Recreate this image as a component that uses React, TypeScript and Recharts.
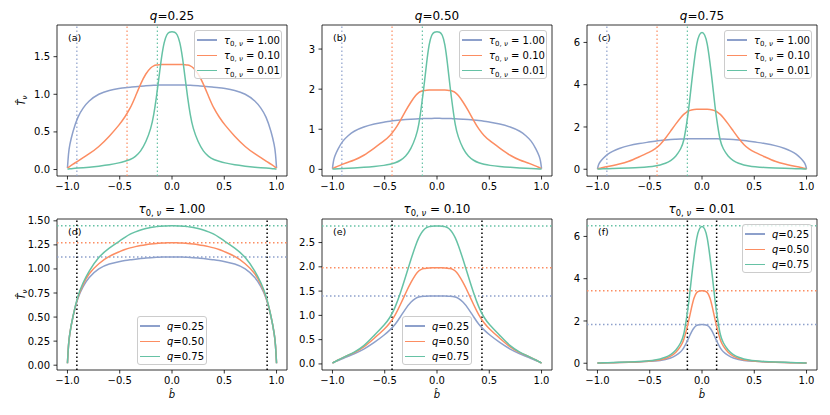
import React from 'react';
import { LineChart, Line, XAxis, YAxis, ReferenceLine, ReferenceArea, Legend } from 'recharts';

// impact parameter grid (b-hat)
const B = [
  -1, -0.99, -0.98, -0.95, -0.9, -0.85, -0.8, -0.7, -0.6, -0.5, -0.45, -0.4, -0.35, -0.3, -0.25, -0.2,
  -0.175, -0.15, -0.125, -0.1, -0.075, -0.05, -0.025, 0,
  0.025, 0.05, 0.075, 0.1, 0.125, 0.15, 0.175, 0.2, 0.25, 0.3, 0.35, 0.4, 0.45, 0.5, 0.6, 0.7, 0.8,
  0.85, 0.9, 0.95, 0.98, 0.99, 1,
];

// tau = 1.00
const T1_Q25 = [
  0.02, 0.22, 0.32, 0.5, 0.71, 0.82, 0.91, 1.01, 1.055, 1.078, 1.088, 1.095, 1.102, 1.108, 1.113, 1.118,
  1.12, 1.121, 1.122, 1.123, 1.124, 1.125, 1.125, 1.125,
  1.125, 1.125, 1.124, 1.123, 1.122, 1.121, 1.12, 1.118, 1.113, 1.108, 1.102, 1.095, 1.088, 1.078, 1.055, 1.01, 0.91,
  0.82, 0.71, 0.5, 0.32, 0.22, 0.02,
];
const T1_Q50 = [
  0.02, 0.22, 0.32, 0.5, 0.72, 0.84, 0.95, 1.06, 1.135, 1.18, 1.203, 1.22, 1.232, 1.243, 1.252, 1.259,
  1.262, 1.265, 1.267, 1.269, 1.27, 1.271, 1.272, 1.272,
  1.272, 1.271, 1.27, 1.269, 1.267, 1.265, 1.262, 1.259, 1.252, 1.243, 1.232, 1.22, 1.203, 1.18, 1.135, 1.06, 0.95,
  0.84, 0.72, 0.5, 0.32, 0.22, 0.02,
];
const T1_Q75 = [
  0.02, 0.22, 0.32, 0.5, 0.73, 0.86, 0.97, 1.13, 1.22, 1.29, 1.33, 1.365, 1.385, 1.405, 1.42, 1.432,
  1.436, 1.44, 1.443, 1.445, 1.446, 1.447, 1.448, 1.448,
  1.448, 1.447, 1.446, 1.445, 1.443, 1.44, 1.436, 1.432, 1.42, 1.405, 1.385, 1.365, 1.33, 1.29, 1.22, 1.13, 0.97,
  0.86, 0.73, 0.5, 0.32, 0.22, 0.02,
];

// tau = 0.10
const T01_Q25 = [
  0.02, 0.03, 0.04, 0.07, 0.11, 0.16, 0.2, 0.3, 0.44, 0.6, 0.7, 0.81, 0.97, 1.14, 1.28, 1.36,
  1.38, 1.39, 1.394, 1.396, 1.397, 1.397, 1.397, 1.397,
  1.397, 1.397, 1.397, 1.396, 1.394, 1.39, 1.38, 1.36, 1.28, 1.14, 0.97, 0.81, 0.7, 0.6, 0.44, 0.3, 0.2,
  0.16, 0.11, 0.07, 0.04, 0.03, 0.02,
];
const T01_Q50 = [
  0.02, 0.03, 0.04, 0.08, 0.13, 0.18, 0.22, 0.34, 0.53, 0.72, 0.84, 1.0, 1.22, 1.46, 1.68, 1.86,
  1.92, 1.95, 1.965, 1.973, 1.977, 1.979, 1.98, 1.98,
  1.98, 1.979, 1.977, 1.973, 1.965, 1.95, 1.92, 1.86, 1.68, 1.46, 1.22, 1.0, 0.84, 0.72, 0.53, 0.34, 0.22,
  0.18, 0.13, 0.08, 0.04, 0.03, 0.02,
];
const T01_Q75 = [
  0.02, 0.03, 0.04, 0.08, 0.13, 0.18, 0.23, 0.36, 0.59, 0.81, 0.95, 1.16, 1.46, 1.8, 2.15, 2.47,
  2.6, 2.7, 2.77, 2.81, 2.83, 2.838, 2.842, 2.843,
  2.842, 2.838, 2.83, 2.81, 2.77, 2.7, 2.6, 2.47, 2.15, 1.8, 1.46, 1.16, 0.95, 0.81, 0.59, 0.36, 0.23,
  0.18, 0.13, 0.08, 0.04, 0.03, 0.02,
];

// tau = 0.01
const T001_Q25 = [
  0.005, 0.008, 0.01, 0.015, 0.02, 0.025, 0.03, 0.045, 0.06, 0.09, 0.11, 0.13, 0.17, 0.24, 0.36, 0.55,
  0.72, 0.95, 1.22, 1.5, 1.7, 1.8, 1.83, 1.83,
  1.83, 1.8, 1.7, 1.5, 1.22, 0.95, 0.72, 0.55, 0.36, 0.24, 0.17, 0.13, 0.11, 0.09, 0.06, 0.045, 0.03,
  0.025, 0.02, 0.015, 0.01, 0.008, 0.005,
];
const T001_Q50 = [
  0.005, 0.008, 0.01, 0.015, 0.02, 0.025, 0.035, 0.05, 0.07, 0.1, 0.125, 0.16, 0.22, 0.32, 0.5, 0.82,
  1.08, 1.55, 2.05, 2.65, 3.15, 3.37, 3.43, 3.43,
  3.43, 3.37, 3.15, 2.65, 2.05, 1.55, 1.08, 0.82, 0.5, 0.32, 0.22, 0.16, 0.125, 0.1, 0.07, 0.05, 0.035,
  0.025, 0.02, 0.015, 0.01, 0.008, 0.005,
];
const T001_Q75 = [
  0.005, 0.008, 0.01, 0.018, 0.025, 0.032, 0.04, 0.06, 0.08, 0.12, 0.15, 0.2, 0.27, 0.4, 0.6, 0.98,
  1.3, 2.05, 2.9, 4.1, 5.1, 6.0, 6.4, 6.5,
  6.4, 6.0, 5.1, 4.1, 2.9, 2.05, 1.3, 0.98, 0.6, 0.4, 0.27, 0.2, 0.15, 0.12, 0.08, 0.06, 0.04,
  0.032, 0.025, 0.018, 0.01, 0.008, 0.005,
];

// CURVES[tau][q]
const CURVES = [
  [T1_Q25, T1_Q50, T1_Q75],
  [T01_Q25, T01_Q50, T01_Q75],
  [T001_Q25, T001_Q50, T001_Q75],
];

const Q_LABELS = ['0.25', '0.50', '0.75'];
const TAU_LABELS = ['1.00', '0.10', '0.01'];
const TAU_EDGE = [0.91, 0.43, 0.14];
// peak value for [tau][q]
const PEAKS = [
  [1.125, 1.272, 1.448],
  [1.397, 1.98, 2.843],
  [1.83, 3.43, 6.5],
];

const X_TICKS = [-1, -0.5, 0, 0.5, 1];
const Y_TICKS_TOP = [[0, 0.5, 1, 1.5], [0, 1, 2, 3], [0, 2, 4, 6]];
const Y_TICKS_BOTTOM = [[0, 0.25, 0.5, 0.75, 1, 1.25, 1.5], [0, 0.5, 1, 1.5, 2, 2.5], [0, 2, 4, 6]];
const Y_DOMAIN_TOP = [[-0.086, 1.921], [-0.166, 3.6], [-0.32, 6.825]];
const Y_DOMAIN_BOTTOM = [[-0.05, 1.519], [-0.125, 2.985], [-0.32, 6.825]];
const Y_DEC_TOP = [1, 0, 0];
const Y_DEC_BOTTOM = [2, 1, 0];
const LETTERS = ['a', 'b', 'c', 'd', 'e', 'f'];

const SET2 = ['#8da0cb', '#fc8d62', '#66c2a5'];
const FONT = '"DejaVu Sans", sans-serif';
const PLOT_W = 230;
const PLOT_H = 151;
const COL_X = [57, 322, 587];
const ROW_Y = [25, 219];
const ML = 50;
const MT = 25;

const fmt = (d: number) => (v: number) => (v < 0 ? '\u2212' : '') + Math.abs(v).toFixed(d);

const TauText = ({ value }: { value: string }) => (
  <>
    <span style={{ fontStyle: 'italic' }}>τ</span>
    <span style={{ fontSize: 7, position: 'relative', top: 2.5 }}>0, <i>ν</i></span>
    <span> = {value}</span>
  </>
);

const QText = ({ value }: { value: string }) => (
  <>
    <i>q</i>={value}
  </>
);

type PanelSpec = {
  left: number;
  top: number;
  series: number[][];
  yDomain: number[];
  yTicks: number[];
  yDec: number;
  legend: React.ReactNode[];
  legendPos: 'ur' | 'lc';
  legendW: number;
  vlines: { x: number; color: string; w: number }[];
  hlines: { y: number; color: string }[];
};

function LegendBox({ items, w }: { items: React.ReactNode[]; w: number }) {
  return (
    <div
      style={{
        position: 'relative',
        width: w,
        height: 49,
        boxSizing: 'border-box',
        background: 'rgba(255,255,255,0.8)',
        border: '1px solid #cccccc',
        borderRadius: 3,
        fontFamily: FONT,
        fontSize: 10,
        color: '#000',
      }}
    >
      {items.map((node, i) => (
        <div
          key={i}
          style={{ position: 'absolute', left: 2, top: 9 + 15.3 * i - 7, height: 14, display: 'flex', alignItems: 'center', whiteSpace: 'nowrap' }}
        >
          <div style={{ width: 20, height: 1.5, background: SET2[i], marginRight: 7 }} />
          <span>{node}</span>
        </div>
      ))}
    </div>
  );
}

function Panel({ p }: { p: PanelSpec }) {
  const rows = B.map((b, k) => ({ b, s0: p.series[0][k], s1: p.series[1][k], s2: p.series[2][k] }));
  const legendH = 49;
  const lx = p.legendPos === 'ur' ? ML + PLOT_W - 5 - p.legendW : ML + PLOT_W / 2 - p.legendW / 2;
  const ly = p.legendPos === 'ur' ? MT + 5 : MT + PLOT_H - 5 - legendH;
  return (
    <div style={{ position: 'absolute', left: p.left - ML, top: p.top - MT }}>
      <LineChart width={ML + PLOT_W + 8} height={MT + PLOT_H + 30} data={rows} margin={{ top: MT, right: 8, bottom: 0, left: 0 }}>
        <XAxis
          dataKey="b"
          type="number"
          domain={[-1.1, 1.1]}
          ticks={X_TICKS}
          tickFormatter={fmt(1)}
          height={30}
          tickSize={3.5}
          tickMargin={3.5}
          axisLine={false}
          tickLine={{ stroke: '#000', strokeWidth: 0.8 }}
          tick={{ fontSize: 10, fill: '#000' }}
          allowDataOverflow
        />
        <YAxis
          type="number"
          domain={p.yDomain}
          ticks={p.yTicks}
          tickFormatter={fmt(p.yDec)}
          width={ML}
          tickSize={3.5}
          tickMargin={3.5}
          axisLine={false}
          tickLine={{ stroke: '#000', strokeWidth: 0.8 }}
          tick={{ fontSize: 10, fill: '#000' }}
          allowDataOverflow
        />
        {p.hlines.map((h, i) => (
          <ReferenceLine key={'h' + i} y={h.y} stroke={h.color} strokeWidth={1.5} strokeDasharray="1.5 2.5" />
        ))}
        {p.vlines.map((v, i) => (
          <ReferenceLine key={'v' + i} x={v.x} stroke={v.color} strokeWidth={v.w} strokeDasharray="1.5 2.5" />
        ))}
        {p.series.map((_, i) => (
          <Line
            key={i}
            dataKey={'s' + i}
            type="basis"
            stroke={SET2[i]}
            strokeWidth={1.5}
            dot={false}
            activeDot={false}
            isAnimationActive={false}
          />
        ))}
        <ReferenceArea x1={-1.1} x2={1.1} y1={p.yDomain[0]} y2={p.yDomain[1]} fill="none" stroke="#000" strokeWidth={0.8} />
        <Legend
          layout="horizontal"
          verticalAlign="middle"
          align="center"
          wrapperStyle={{ left: lx, top: ly, width: p.legendW, height: legendH }}
          content={() => <LegendBox items={p.legend} w={p.legendW} />}
        />
      </LineChart>
    </div>
  );
}

const PANELS: PanelSpec[] = [
  ...[0, 1, 2].map((j) => ({
    left: COL_X[j],
    top: ROW_Y[0],
    series: [CURVES[0][j], CURVES[1][j], CURVES[2][j]],
    yDomain: Y_DOMAIN_TOP[j],
    yTicks: Y_TICKS_TOP[j],
    yDec: Y_DEC_TOP[j],
    legend: TAU_LABELS.map((t) => <TauText value={t} />),
    legendPos: 'ur' as const,
    legendW: 88,
    vlines: TAU_EDGE.map((e, i) => ({ x: -e, color: SET2[i], w: 1.2 })),
    hlines: [],
  })),
  ...[0, 1, 2].map((i) => ({
    left: COL_X[i],
    top: ROW_Y[1],
    series: CURVES[i],
    yDomain: Y_DOMAIN_BOTTOM[i],
    yTicks: Y_TICKS_BOTTOM[i],
    yDec: Y_DEC_BOTTOM[i],
    legend: Q_LABELS.map((q) => <QText value={q} />),
    legendPos: (i === 2 ? 'ur' : 'lc') as 'ur' | 'lc',
    legendW: 70,
    vlines: [
      { x: -TAU_EDGE[i], color: '#000', w: 1.5 },
      { x: TAU_EDGE[i], color: '#000', w: 1.5 },
    ],
    hlines: PEAKS[i].map((y, j) => ({ y, color: SET2[j] })),
  })),
];

export default function App() {
  return (
    <div style={{ position: 'absolute', left: 0, top: 0, width: 830, height: 415, background: '#fff', overflow: 'hidden', fontFamily: FONT }}>
      {PANELS.map((p, k) => (
        <Panel key={k} p={p} />
      ))}
      <svg width={830} height={415} style={{ position: 'absolute', left: 0, top: 0, pointerEvents: 'none' }} fontFamily={FONT}>
        {[0, 1, 2].map((j) => (
          <text key={'tq' + j} x={COL_X[j] + PLOT_W / 2} y={20} textAnchor="middle" fontSize={12}>
            <tspan fontStyle="italic">q</tspan>={Q_LABELS[j]}
          </text>
        ))}
        {[0, 1, 2].map((i) => (
          <text key={'tt' + i} x={COL_X[i] + PLOT_W / 2} y={213} textAnchor="middle" fontSize={12}>
            <tspan fontStyle="italic">τ</tspan>
            <tspan dy={3} fontSize={8.4}>0, </tspan>
            <tspan fontSize={8.4} fontStyle="italic">ν</tspan>
            <tspan dy={-3}> = {TAU_LABELS[i]}</tspan>
          </text>
        ))}
        {LETTERS.map((l, k) => (
          <text key={'l' + k} x={COL_X[k % 3] + 11} y={ROW_Y[Math.floor(k / 3)] + 15.5} fontSize={9.5}>
            ({l})
          </text>
        ))}
        {ROW_Y.map((y, r) => (
          <text key={'yl' + r} x={25} y={y + PLOT_H / 2} transform={`rotate(-90 25 ${y + PLOT_H / 2})`} textAnchor="middle" fontSize={10}>
            <tspan fontStyle="italic">T̂</tspan>
            <tspan dy={2} fontSize={7} fontStyle="italic">ν</tspan>
          </text>
        ))}
        {COL_X.map((x, c) => (
          <text key={'xl' + c} x={x + PLOT_W / 2} y={398} textAnchor="middle" fontSize={10} fontStyle="italic">
            b̂
          </text>
        ))}
      </svg>
    </div>
  );
}
